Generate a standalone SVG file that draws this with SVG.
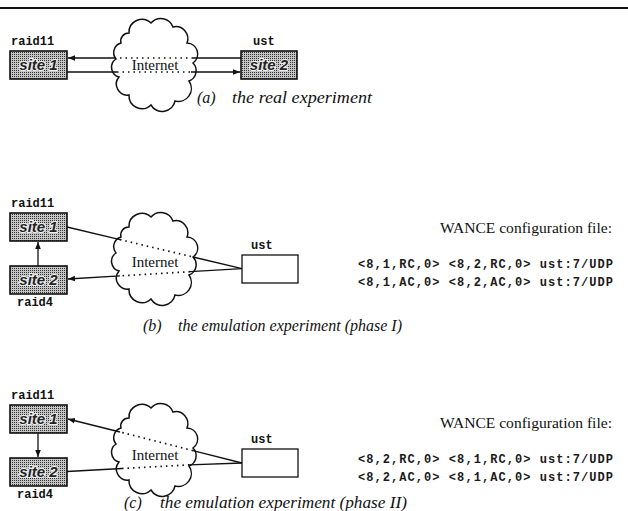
<svg xmlns="http://www.w3.org/2000/svg" width="628" height="511" viewBox="0 0 628 511">
<style>
.lbl{font-family:"Liberation Mono",monospace;font-weight:bold;font-size:12px;fill:#111}
.cfg{font-family:"Liberation Mono",monospace;font-weight:bold;font-size:12px;fill:#1a1a1a}
.site{font-family:"Liberation Sans",Arial,sans-serif;font-weight:bold;font-style:italic;font-size:15px;fill:#222;text-anchor:middle;stroke:#eee;stroke-width:2.2;paint-order:stroke}
.net{font-family:"Liberation Serif",serif;font-size:15px;fill:#111;text-anchor:middle}
.cap{font-family:"Liberation Serif",serif;font-style:italic;font-size:16px;fill:#111}
.hdr{font-family:"Liberation Serif",serif;font-size:15px;fill:#111}
.box{fill:url(#stip);stroke:#111;stroke-width:1.6}
.wbox{fill:#fff;stroke:#111;stroke-width:1.3}
.cloud{fill:#fff;stroke:#111;stroke-width:1.5}
.ln{stroke:#111;stroke-width:1.3;fill:none}
.dot{stroke:#111;stroke-width:1.7;fill:none;stroke-dasharray:1.5 4}
</style>
<defs>
<pattern id="stip" width="2" height="2" patternUnits="userSpaceOnUse">
<rect width="2" height="2" fill="#c4c4c4"/>
<rect width="1" height="1" fill="#333"/>
</pattern>
<marker id="ah" viewBox="0 0 10 10" refX="10" refY="5" markerWidth="7" markerHeight="7" markerUnits="userSpaceOnUse" orient="auto">
<path d="M0,1 L10,5 L0,9 Z" fill="#111"/>
</marker>
<path id="cl" d="M -26,-30 A 13 13 0 0 1 -4,-40 A 13 13 0 0 1 18,-36 A 12 12 0 0 1 32,-20 A 11 11 0 0 1 38,0 A 11 11 0 0 1 34,18 A 13 13 0 0 1 20,38 A 13 13 0 0 1 -4,42 A 13 13 0 0 1 -26,32 A 11 11 0 0 1 -36,14 A 10 10 0 0 1 -39,-4 A 10 10 0 0 1 -34,-20 A 8 8 0 0 1 -26,-30 Z"/>
</defs>
<rect width="628" height="511" fill="#fff"/>
<line x1="0" y1="8" x2="628" y2="8" stroke="#111" stroke-width="1.8"/>

<!-- (a) -->
<g id="a-site1"><text class="lbl" x="11" y="45">raid11</text><rect class="box" x="10" y="51" width="57" height="28"/><text class="site" x="38.5" y="70">site 1</text></g>
<g id="a-site2"><text class="lbl" x="253" y="45">ust</text><rect class="box" x="241" y="51" width="56" height="28"/><text class="site" x="269" y="70">site 2</text></g>
<g id="a-cloud"><use href="#cl" class="cloud" transform="translate(155,63)"/></g>
<g id="a-conn">
<line class="ln" x1="241" y1="58" x2="193" y2="58"/><line class="dot" x1="193" y1="58" x2="116" y2="58"/><line class="ln" x1="116" y1="58" x2="68" y2="58" marker-end="url(#ah)"/>
<line class="ln" x1="67" y1="72" x2="117" y2="72"/><line class="dot" x1="117" y1="72" x2="191" y2="72"/><line class="ln" x1="191" y1="72" x2="240" y2="72" marker-end="url(#ah)"/>
</g>
<text class="net" x="155" y="70">Internet</text>
<g id="a-cap"><text class="cap" x="197" y="103">(a)</text><text class="cap" x="232" y="103" textLength="140" lengthAdjust="spacingAndGlyphs">the real experiment</text></g>

<!-- (b) -->
<g id="b-site1"><text class="lbl" x="11" y="207">raid11</text><rect class="box" x="10" y="213" width="57" height="28"/><text class="site" x="38.5" y="232">site 1</text></g>
<g id="b-site2"><rect class="box" x="10" y="266" width="57" height="28"/><text class="site" x="38.5" y="285">site 2</text><text class="lbl" x="17" y="306">raid4</text></g>
<g id="b-ust"><text class="lbl" x="251" y="249">ust</text><rect class="wbox" x="242" y="255" width="56" height="28"/></g>
<g id="b-cloud"><use href="#cl" class="cloud" transform="translate(155,257)"/></g>
<g id="b-conn">
<line class="ln" x1="38" y1="266" x2="38" y2="242" marker-end="url(#ah)"/>
<line class="ln" x1="67" y1="227" x2="120" y2="239.6"/><line class="dot" x1="120" y1="239.6" x2="193" y2="257"/><line class="ln" x1="193" y1="257" x2="242" y2="268.6"/>
<line class="ln" x1="242" y1="268.6" x2="190" y2="271.7"/><line class="dot" x1="190" y1="271.7" x2="120" y2="275.9"/><line class="ln" x1="120" y1="275.9" x2="68" y2="279" marker-end="url(#ah)"/>
</g>
<text class="net" x="155" y="267">Internet</text>
<g id="b-cfg"><text class="hdr" x="440" y="233" textLength="172" lengthAdjust="spacingAndGlyphs">WANCE configuration file:</text>
<text class="cfg" x="358" y="268" textLength="255" lengthAdjust="spacing">&lt;8,1,RC,0&gt; &lt;8,2,RC,0&gt; ust:7/UDP</text>
<text class="cfg" x="358" y="286" textLength="255" lengthAdjust="spacing">&lt;8,1,AC,0&gt; &lt;8,2,AC,0&gt; ust:7/UDP</text></g>
<g id="b-cap"><text class="cap" x="143" y="331">(b)</text><text class="cap" x="178" y="331" textLength="224" lengthAdjust="spacingAndGlyphs">the emulation experiment (phase I)</text></g>

<!-- (c) -->
<g id="c-site1"><text class="lbl" x="11" y="399">raid11</text><rect class="box" x="10" y="405" width="57" height="28"/><text class="site" x="38.5" y="424">site 1</text></g>
<g id="c-site2"><rect class="box" x="10" y="458" width="57" height="28"/><text class="site" x="38.5" y="477">site 2</text><text class="lbl" x="17" y="498">raid4</text></g>
<g id="c-ust"><text class="lbl" x="251" y="443">ust</text><rect class="wbox" x="242" y="449" width="56" height="28"/></g>
<g id="c-cloud"><use href="#cl" class="cloud" transform="translate(155,448)"/></g>
<g id="c-conn">
<line class="ln" x1="38" y1="433" x2="38" y2="457" marker-end="url(#ah)"/>
<line class="ln" x1="242" y1="463" x2="193" y2="450.6"/><line class="dot" x1="193" y1="450.6" x2="120" y2="432"/><line class="ln" x1="120" y1="432" x2="68" y2="419" marker-end="url(#ah)"/>
<line class="ln" x1="67" y1="471.5" x2="122" y2="468.5"/><line class="dot" x1="122" y1="468.5" x2="189" y2="464.9"/><line class="ln" x1="189" y1="464.9" x2="242" y2="463"/>
</g>
<text class="net" x="155" y="460">Internet</text>
<g id="c-cfg"><text class="hdr" x="440" y="428" textLength="172" lengthAdjust="spacingAndGlyphs">WANCE configuration file:</text>
<text class="cfg" x="358" y="463" textLength="255" lengthAdjust="spacing">&lt;8,2,RC,0&gt; &lt;8,1,RC,0&gt; ust:7/UDP</text>
<text class="cfg" x="358" y="481" textLength="255" lengthAdjust="spacing">&lt;8,2,AC,0&gt; &lt;8,1,AC,0&gt; ust:7/UDP</text></g>
<g id="c-cap"><text class="cap" x="124" y="508">(c)</text><text class="cap" x="160" y="508" textLength="247" lengthAdjust="spacingAndGlyphs">the emulation experiment (phase II)</text></g>
</svg>
